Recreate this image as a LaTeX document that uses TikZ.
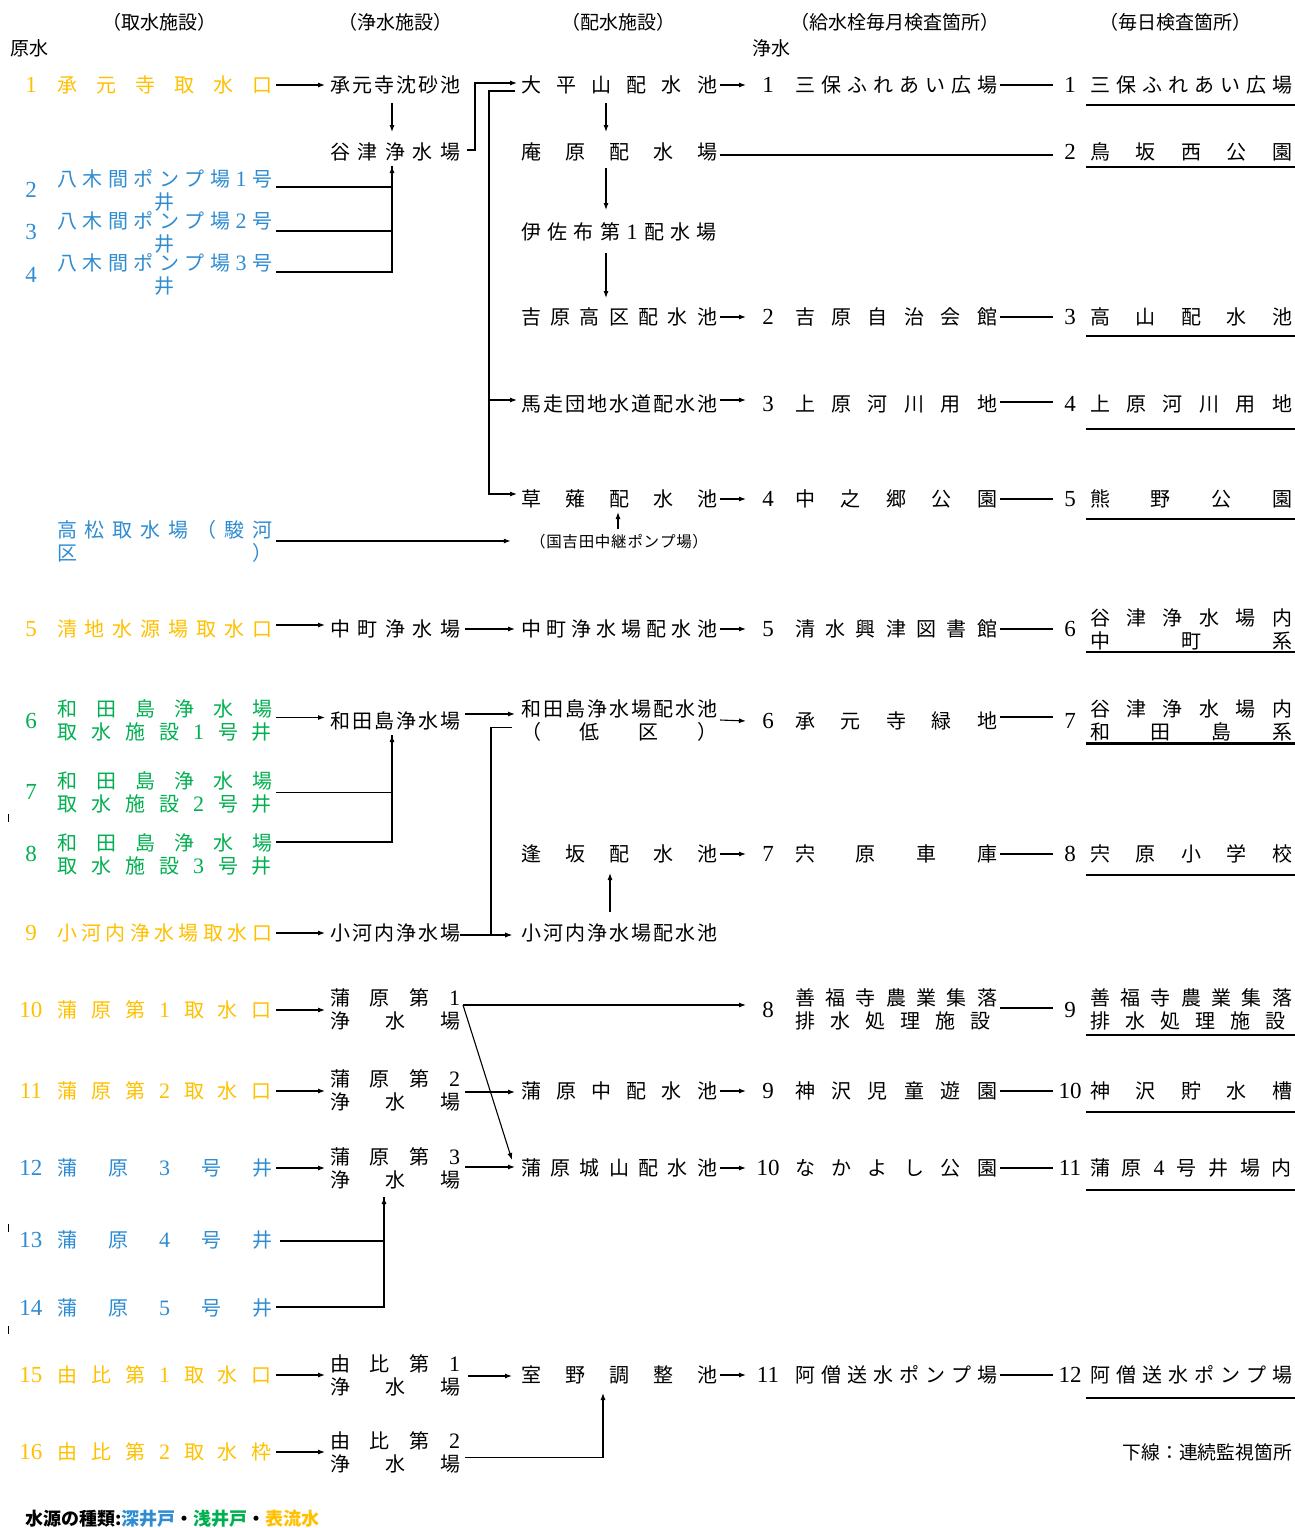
\documentclass[tikz,border=0pt]{standalone}
\usepackage{fontspec}
\setmainfont{Noto Sans CJK JP}
\newfontfamily\numf{Liberation Serif}
\usetikzlibrary{arrows.meta,calc}
\definecolor{cO}{HTML}{FFC000}
\definecolor{cB}{HTML}{2F8CD2}
\definecolor{cG}{HTML}{00B050}
\newcommand\fs{\fontsize{20}{23}\selectfont}
\newcommand\st{\rule[-2.4pt]{0pt}{20pt}}
\def\sprdend{\sprdend}
\def\sprdA#1{#1\sprdB}
\def\sprdB#1{\ifx\sprdend#1\else\hfill#1\expandafter\sprdB\fi}
\newcommand\sprd[2]{\makebox[#1pt][s]{\st\sprdA#2\sprdend}}
\newcommand\Da{{\numf\fontsize{22}{23}\selectfont 1}}
\newcommand\Db{{\numf\fontsize{22}{23}\selectfont 2}}
\newcommand\Dc{{\numf\fontsize{22}{23}\selectfont 3}}
\newcommand\Dd{{\numf\fontsize{22}{23}\selectfont 4}}
\newcommand\De{{\numf\fontsize{22}{23}\selectfont 5}}
\tikzset{
 lbl/.style={anchor=west,inner sep=0pt,outer sep=0pt,font=\fs,align=left},
 nm/.style={inner sep=0pt,outer sep=0pt,font=\numf\fontsize{23}{23}\selectfont},
 hd/.style={inner sep=0pt,outer sep=0pt,font=\fontsize{19}{21}\selectfont},
 cn/.style={line width=1.1pt},
 arr/.style={cn,-{Latex[length=7pt,width=5pt]}},
 ul/.style={line width=2.5pt}}
\begin{document}
\begin{tikzpicture}[x=1pt,y=-1pt]
\fill[white] (0,0) rectangle (1295,1528);
\useasboundingbox (0,0) rectangle (1295,1528);
% headers
\node[hd] (h1) at (159,22) {（取水施設）};
\node[hd] (h2) at (395,22) {（浄水施設）};
\node[hd] (h3) at (618,22) {（配水施設）};
\node[hd] (h4) at (895,22) {（給水栓毎月検査箇所）};
\node[hd] (h5) at (1175,22) {（毎日検査箇所）};
\node[hd,anchor=west] (h6) at (10,48) {原水};
\node[hd,anchor=west] (h7) at (752,48) {浄水};
% column 1
\node[nm,text=cO] (k1n) at (31,85) {1};
\node[lbl,text=cO] (k1) at (57,85) {\sprd{215}{承元寺取水口}};
\node[nm,text=cB] (k2n) at (31,190) {2};
\node[lbl,text=cB] (k2) at (57,190.5) {\sprd{215}{八木間ポンプ場\Da 号}\\\makebox[215pt]{\st 井}};
\node[nm,text=cB] (k3n) at (31,232) {3};
\node[lbl,text=cB] (k3) at (57,232.5) {\sprd{215}{八木間ポンプ場\Db 号}\\\makebox[215pt]{\st 井}};
\node[nm,text=cB] (k4n) at (31,275) {4};
\node[lbl,text=cB] (k4) at (57,274.5) {\sprd{215}{八木間ポンプ場\Dc 号}\\\makebox[215pt]{\st 井}};
\node[lbl,text=cB] (k5) at (57,541) {\sprd{215}{高松取水場（駿河}\\\sprd{215}{区）}};
\node[nm,text=cO] (k6n) at (31,629) {5};
\node[lbl,text=cO] (k6) at (57,629) {\sprd{215}{清地水源場取水口}};
\node[nm,text=cG] (k7n) at (31,721) {6};
\node[lbl,text=cG] (k7) at (57,720.5) {\sprd{215}{和田島浄水場}\\\sprd{215}{取水施設\Da 号井}};
\node[nm,text=cG] (k8n) at (31,792) {7};
\node[lbl,text=cG] (k8) at (57,792.5) {\sprd{215}{和田島浄水場}\\\sprd{215}{取水施設\Db 号井}};
\node[nm,text=cG] (k9n) at (31,854) {8};
\node[lbl,text=cG] (k9) at (57,854.5) {\sprd{215}{和田島浄水場}\\\sprd{215}{取水施設\Dc 号井}};
\node[nm,text=cO] (k10n) at (31,933) {9};
\node[lbl,text=cO] (k10) at (57,933) {\sprd{215}{小河内浄水場取水口}};
\node[nm,text=cO] (k11n) at (31,1010) {10};
\node[lbl,text=cO] (k11) at (57,1010) {\sprd{215}{蒲原第\Da 取水口}};
\node[nm,text=cO] (k12n) at (31,1091) {11};
\node[lbl,text=cO] (k12) at (57,1091) {\sprd{215}{蒲原第\Db 取水口}};
\node[nm,text=cB] (k13n) at (31,1168) {12};
\node[lbl,text=cB] (k13) at (57,1168) {\sprd{215}{蒲原\Dc 号井}};
\node[nm,text=cB] (k14n) at (31,1240) {13};
\node[lbl,text=cB] (k14) at (57,1240) {\sprd{215}{蒲原\Dd 号井}};
\node[nm,text=cB] (k15n) at (31,1308) {14};
\node[lbl,text=cB] (k15) at (57,1308) {\sprd{215}{蒲原\De 号井}};
\node[nm,text=cO] (k16n) at (31,1375) {15};
\node[lbl,text=cO] (k16) at (57,1375) {\sprd{215}{由比第\Da 取水口}};
\node[nm,text=cO] (k17n) at (31,1452) {16};
\node[lbl,text=cO] (k17) at (57,1452) {\sprd{215}{由比第\Db 取水枠}};
% column 2
\node[lbl] (p1) at (330,85) {\sprd{130}{承元寺沈砂池}};
\node[lbl] (p2) at (330,152) {\sprd{130}{谷津浄水場}};
\node[lbl] (p3) at (330,629) {\sprd{130}{中町浄水場}};
\node[lbl] (p4) at (330,721) {\sprd{130}{和田島浄水場}};
\node[lbl] (p5) at (330,933) {\sprd{130}{小河内浄水場}};
\node[lbl] (p6) at (330,1009.5) {\sprd{130}{蒲原第\Da}\\\sprd{130}{浄水場}};
\node[lbl] (p7) at (330,1090.5) {\sprd{130}{蒲原第\Db}\\\sprd{130}{浄水場}};
\node[lbl] (p8) at (330,1168.5) {\sprd{130}{蒲原第\Dc}\\\sprd{130}{浄水場}};
\node[lbl] (p9) at (330,1375.5) {\sprd{130}{由比第\Da}\\\sprd{130}{浄水場}};
\node[lbl] (p10) at (330,1452.5) {\sprd{130}{由比第\Db}\\\sprd{130}{浄水場}};
% column 3
\node[lbl] (d1) at (521,85) {\sprd{196}{大平山配水池}};
\node[lbl] (d2) at (521,152) {\sprd{196}{庵原配水場}};
\node[lbl] (d3) at (521,232) {\sprd{196}{伊佐布第\Da 配水場}};
\node[lbl] (d4) at (521,317) {\sprd{196}{吉原高区配水池}};
\node[lbl] (d5) at (521,404) {\sprd{196}{馬走団地水道配水池}};
\node[lbl] (d6) at (521,499) {\sprd{196}{草薙配水池}};
\node[inner sep=0pt,font=\fontsize{15.5}{18}\selectfont] (pump) at (619,539.5) {\sprd{178}{（国吉田中継ポンプ場）}};
\node[lbl] (d7) at (521,629) {\sprd{196}{中町浄水場配水池}};
\node[lbl] (d8) at (521,720.5) {\sprd{196}{和田島浄水場配水池}\\\sprd{196}{（低区）}};
\node[lbl] (d9) at (521,854) {\sprd{196}{逢坂配水池}};
\node[lbl] (d10) at (521,933) {\sprd{196}{小河内浄水場配水池}};
\node[lbl] (d11) at (521,1091) {\sprd{196}{蒲原中配水池}};
\node[lbl] (d12) at (521,1168) {\sprd{196}{蒲原城山配水池}};
\node[lbl] (d13) at (521,1375) {\sprd{196}{室野調整池}};
% column 4
\node[nm] (m1n) at (768,85) {1};
\node[lbl] (m1) at (795,85) {\sprd{202}{三保ふれあい広場}};
\node[nm] (m2n) at (768,317) {2};
\node[lbl] (m2) at (795,317) {\sprd{202}{吉原自治会館}};
\node[nm] (m3n) at (768,404) {3};
\node[lbl] (m3) at (795,404) {\sprd{202}{上原河川用地}};
\node[nm] (m4n) at (768,499) {4};
\node[lbl] (m4) at (795,499) {\sprd{202}{中之郷公園}};
\node[nm] (m5n) at (768,629) {5};
\node[lbl] (m5) at (795,629) {\sprd{202}{清水興津図書館}};
\node[nm] (m6n) at (768,721) {6};
\node[lbl] (m6) at (795,721) {\sprd{202}{承元寺緑地}};
\node[nm] (m7n) at (768,854) {7};
\node[lbl] (m7) at (795,854) {\sprd{202}{宍原車庫}};
\node[nm] (m8n) at (768,1010) {8};
\node[lbl] (m8) at (795,1009.5) {\sprd{202}{善福寺農業集落}\\\sprd{195}{排水処理施設}};
\node[nm] (m9n) at (768,1091) {9};
\node[lbl] (m9) at (795,1091) {\sprd{202}{神沢児童遊園}};
\node[nm] (m10n) at (768,1168) {10};
\node[lbl] (m10) at (795,1168) {\sprd{202}{なかよし公園}};
\node[nm] (m11n) at (768,1375) {11};
\node[lbl] (m11) at (795,1375) {\sprd{202}{阿僧送水ポンプ場}};
% column 5
\node[nm] (e1n) at (1070,85) {1};
\node[lbl] (e1) at (1090,85) {\sprd{202}{三保ふれあい広場}};
\node[nm] (e2n) at (1070,152) {2};
\node[lbl] (e2) at (1090,152) {\sprd{202}{鳥坂西公園}};
\node[nm] (e3n) at (1070,317) {3};
\node[lbl] (e3) at (1090,317) {\sprd{202}{高山配水池}};
\node[nm] (e4n) at (1070,404) {4};
\node[lbl] (e4) at (1090,404) {\sprd{202}{上原河川用地}};
\node[nm] (e5n) at (1070,499) {5};
\node[lbl] (e5) at (1090,499) {\sprd{202}{熊野公園}};
\node[nm] (e6n) at (1070,629) {6};
\node[lbl] (e6) at (1090,629.5) {\sprd{202}{谷津浄水場内}\\\sprd{202}{中町系}};
\node[nm] (e7n) at (1070,721) {7};
\node[lbl] (e7) at (1090,720.5) {\sprd{202}{谷津浄水場内}\\\sprd{202}{和田島系}};
\node[nm] (e8n) at (1070,854) {8};
\node[lbl] (e8) at (1090,854) {\sprd{202}{宍原小学校}};
\node[nm] (e9n) at (1070,1010) {9};
\node[lbl] (e9) at (1090,1009.5) {\sprd{202}{善福寺農業集落}\\\sprd{195}{排水処理施設}};
\node[nm] (e10n) at (1070,1091) {10};
\node[lbl] (e10) at (1090,1091) {\sprd{202}{神沢貯水槽}};
\node[nm] (e11n) at (1070,1168) {11};
\node[lbl] (e11) at (1090,1168) {\sprd{202}{蒲原\Dd 号井場内}};
\node[nm] (e12n) at (1070,1375) {12};
\node[lbl] (e12) at (1090,1375) {\sprd{202}{阿僧送水ポンプ場}};
% notes
\node[anchor=east,inner sep=0pt,font=\fontsize{18.8}{20}\selectfont] (note) at (1292,1452) {下線：連続監視箇所};
\node[anchor=west,inner sep=0pt,font=\fontsize{18}{21}\selectfont\bfseries] (leg) at (25,1519) {水源の種類:\textcolor{cB}{深井戸}・\textcolor{cG}{浅井戸}・\textcolor{cO}{表流水}};
% underlines
\draw[ul] ([xshift=-4pt,yshift=-10pt]e1.south west) -- ([xshift=3pt,yshift=-10pt]e1.south east);
\draw[ul] ([xshift=-4pt,yshift=-5pt]e2.south west) -- ([xshift=3pt,yshift=-5pt]e2.south east);
\draw[ul] ([xshift=-4pt,yshift=-9pt]e3.south west) -- ([xshift=3pt,yshift=-9pt]e3.south east);
\draw[ul] ([xshift=-4pt,yshift=-15pt]e4.south west) -- ([xshift=3pt,yshift=-15pt]e4.south east);
\draw[ul] ([xshift=-4pt,yshift=-10pt]e5.south west) -- ([xshift=3pt,yshift=-10pt]e5.south east);
\draw[ul] ([xshift=-4pt,yshift=-1pt]e6.south west) -- ([xshift=3pt,yshift=-1pt]e6.south east);
\draw[ul] ([xshift=-4pt,yshift=-1.5pt]e7.south west) -- ([xshift=3pt,yshift=-1.5pt]e7.south east);
\draw[ul] ([xshift=-4pt,yshift=-11pt]e8.south west) -- ([xshift=3pt,yshift=-11pt]e8.south east);
\draw[ul] ([xshift=-4pt,yshift=-4pt]e9.south west) -- ([xshift=3pt,yshift=-4pt]e9.south east);
\draw[ul] ([xshift=-4pt,yshift=-11pt]e10.south west) -- ([xshift=3pt,yshift=-11pt]e10.south east);
\draw[ul] ([xshift=-4pt,yshift=-12pt]e11.south west) -- ([xshift=3pt,yshift=-12pt]e11.south east);
\draw[ul] ([xshift=-4pt,yshift=-13pt]e12.south west) -- ([xshift=3pt,yshift=-13pt]e12.south east);
% column 1 -> column 2
\draw[arr] ([xshift=4pt]k1.east) -- ([xshift=-5pt]p1.west);
\draw[arr] ([xshift=4pt,yshift=4pt]k6.east) -- ([xshift=-5pt,yshift=4pt]p3.west);
\draw[arr] ([xshift=4pt,yshift=3pt]k7.east) -- ([xshift=-5pt,yshift=3.5pt]p4.west);
\draw[arr] ([xshift=4pt]k10.east) -- ([xshift=-5pt]p5.west);
\draw[arr] ([xshift=4pt]k11.east) -- ([xshift=-5pt,yshift=-0.5pt]p6.west);
\draw[arr] ([xshift=4pt]k12.east) -- ([xshift=-5pt,yshift=-0.5pt]p7.west);
\draw[arr] ([xshift=4pt]k13.east) -- ([xshift=-5pt,yshift=0.5pt]p8.west);
\draw[arr] ([xshift=4pt]k16.east) -- ([xshift=-5pt,yshift=0.5pt]p9.west);
\draw[arr] ([xshift=4pt]k17.east) -- ([xshift=-5pt,yshift=0.5pt]p10.west);
% wells merging
\coordinate (b1) at ([xshift=-3pt,yshift=-4pt]p2.south);
\draw[cn] ([xshift=4pt,yshift=3.5pt]k2.east) -| (b1);
\draw[cn] ([xshift=4pt,yshift=1.5pt]k3.east) -| (b1);
\draw[arr] ([xshift=4pt,yshift=2.5pt]k4.east) -| (b1);
\coordinate (b2) at ([xshift=-3pt,yshift=-4pt]p4.south);
\draw[cn] ([xshift=4pt]k8.east) -| (b2);
\draw[arr] ([xshift=4pt,yshift=12.5pt]k9.east) -| (b2);
\coordinate (b3) at ([xshift=-11pt,yshift=-7pt]p8.south);
\draw[cn] ([xshift=8pt,yshift=-1pt]k14.east) -| (b3);
\draw[arr] ([xshift=4pt,yshift=1pt]k15.east) -| (b3);
% column 2 internal and to column 3
\draw[arr] ([xshift=-3pt,yshift=-8pt]p1.south) -- ([xshift=-3pt,yshift=10pt]p2.north);
\draw[arr] ([xshift=7pt,yshift=2pt]p2.east) -- ++(8,0) |- ([xshift=-4pt,yshift=2pt]d1.west);
\coordinate (b4) at ([xshift=-32pt,yshift=-6pt]d1.west);
\draw[arr] ([xshift=-6pt,yshift=-6pt]d1.west) -- (b4) |- ([xshift=-4pt,yshift=5pt]d6.west);
\draw[arr] (b4 |- d5.west) ++(0,-4) -- ([xshift=-4pt,yshift=4pt]d5.west);
\draw[arr] ([xshift=-13pt,yshift=-8pt]d1.south) -- ([xshift=-13pt,yshift=10pt]d2.north);
\draw[arr] ([xshift=-13pt,yshift=-6pt]d2.south) -- ([xshift=-13pt,yshift=12pt]d3.north);
\draw[arr] ([xshift=-13pt,yshift=-11pt]d3.south) -- ([xshift=-13pt,yshift=9pt]d4.north);
\draw[arr] ([xshift=4pt]k5.east) -- ([xshift=-19pt,yshift=-1.5pt]pump.west);
\draw[arr] ([xshift=-1pt]pump.north) -- ([xshift=-1pt,yshift=-3pt]d6.south);
\draw[arr] ([xshift=5pt]p3.east) -- ([xshift=-6pt]d7.west);
\draw[arr] ([xshift=5pt,yshift=7pt]p4.east) -- ([xshift=-6pt,yshift=6.5pt]d8.west);
\draw[arr] ([xshift=-9pt,yshift=-7pt]d8.west) -- ++(-21,0) |- ([xshift=-9pt,yshift=-2pt]d10.west);
\draw[arr] ([yshift=-2pt]p5.east) -- ([xshift=-9pt,yshift=-2pt]d10.west);
\draw[arr] ([xshift=-9pt,yshift=11pt]d10.north) -- ([xshift=-9pt,yshift=-9pt]d9.south);
\draw[arr] ([xshift=3pt,yshift=4.5pt]p6.east) -- ([xshift=-22pt,yshift=5pt]m8n.center);
\draw[arr] ([xshift=3pt,yshift=4.5pt]p6.east) -- ([xshift=-9pt,yshift=8pt]d12.west);
\draw[arr] ([xshift=5pt,yshift=-1.5pt]p7.east) -- ([xshift=-6pt,yshift=-1pt]d11.west);
\draw[arr] ([xshift=5pt,yshift=1.5pt]p8.east) -- ([xshift=-6pt,yshift=1pt]d12.west);
\draw[arr] ([xshift=8pt,yshift=-0.5pt]p9.east) -- ([xshift=-9pt,yshift=-1pt]d13.west);
\draw[arr] ([xshift=5pt,yshift=-5pt]p10.east) -| ([xshift=-16pt,yshift=-8pt]d13.south);
% column 3 -> column 4
\draw[arr] ([xshift=3pt]d1.east) -- ([xshift=-22pt]m1n.center);
\draw[arr] ([xshift=3pt]d4.east) -- ([xshift=-22pt]m2n.center);
\draw[arr] ([xshift=3pt,yshift=4pt]d5.east) -- ([xshift=-22pt,yshift=4pt]m3n.center);
\draw[arr] ([xshift=3pt]d6.east) -- ([xshift=-22pt]m4n.center);
\draw[arr] ([xshift=3pt]d7.east) -- ([xshift=-22pt]m5n.center);
\draw[arr] ([xshift=3pt,yshift=0.5pt]d8.east) -- ([xshift=-22pt]m6n.center);
\draw[arr] ([xshift=3pt]d9.east) -- ([xshift=-22pt]m7n.center);
\draw[arr] ([xshift=3pt]d11.east) -- ([xshift=-22pt]m9n.center);
\draw[arr] ([xshift=3pt]d12.east) -- ([xshift=-22pt]m10n.center);
\draw[arr] ([xshift=3pt]d13.east) -- ([xshift=-22pt]m11n.center);
% column 4 -> column 5
\draw[cn] ([xshift=3pt]m1.east) -- ([xshift=-17pt]e1n.center);
\draw[cn] ([xshift=3pt,yshift=-3pt]d2.east) -- ([xshift=-17pt,yshift=-3pt]e2n.center);
\draw[cn] ([xshift=3pt]m2.east) -- ([xshift=-17pt]e3n.center);
\draw[cn] ([xshift=3pt,yshift=2pt]m3.east) -- ([xshift=-17pt,yshift=2pt]e4n.center);
\draw[cn] ([xshift=3pt]m4.east) -- ([xshift=-17pt]e5n.center);
\draw[cn] ([xshift=3pt]m5.east) -- ([xshift=-17pt]e6n.center);
\draw[cn] ([xshift=3pt,yshift=4pt]m6.east) -- ([xshift=-17pt,yshift=4pt]e7n.center);
\draw[cn] ([xshift=3pt]m7.east) -- ([xshift=-17pt]e8n.center);
\draw[cn] ([xshift=3pt,yshift=1.5pt]m8.east) -- ([xshift=-17pt,yshift=2pt]e9n.center);
\draw[cn] ([xshift=3pt]m9.east) -- ([xshift=-17pt]e10n.center);
\draw[cn] ([xshift=3pt]m10.east) -- ([xshift=-17pt]e11n.center);
\draw[cn] ([xshift=3pt]m11.east) -- ([xshift=-17pt]e12n.center);
% stray marks
\draw[line width=0.8pt] (8,814) -- (8,822);
\draw[line width=0.8pt] (8,1224) -- (8,1232);
\draw[line width=0.8pt] (8,1326) -- (8,1334);
\end{tikzpicture}
\end{document}
